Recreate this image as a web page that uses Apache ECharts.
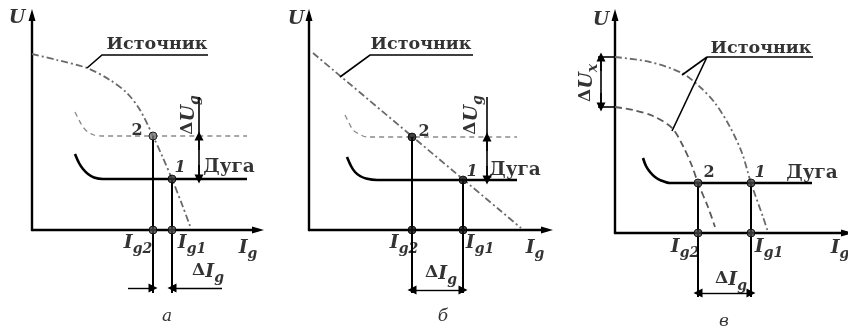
<!DOCTYPE html>
<html><head><meta charset="utf-8">
<script src="https://cdn.jsdelivr.net/npm/echarts@6/dist/echarts.min.js"></script>
<style>html,body{margin:0;background:#fff}#c{width:848px;height:328px}</style>
</head><body><div id="c"></div>
<script>
// Volt-ampere characteristics of a welding source and the arc, three cases.
// Units are arbitrary current (x) and voltage (y).

// ---- а: steeply falling source, arc length changes ----
const srcA   = [[0,176],[25,170],[55,162],[78,150],[95,137],[108,120],[121,94],[131,72],[140,51],[151,23],[158,4]];
const arcA   = [[43,76],[47,67],[51,61],[56,56],[62,52.5],[71,51],[100,51],[215,51]];
const arcA2  = [[43,118],[47,110],[51,103],[56,98],[62,95],[70,94],[100,94],[215,94]];
const opA    = [[121,94],[140,51]];            // points 2 and 1
const footA  = [[121,0],[140,0]];
const vertA  = [[[121,94],[121,-63]],[[140,51],[140,-63]]];
const dUA    = [[167,133],[167,51]];
const dUArrA = [[[167,80],[167,94]],[[167,65],[167,51]]];
const dIArrA = [[[96,-58],[121,-58]],[[190,-58],[140,-58]]];
const leadA  = [[55,162],[70,175],[176,175]];

// ---- б: gently falling source, arc length changes ----
const srcB   = [[4,177],[212,2]];
const arcB   = [[38,73],[42,64],[46,58],[51,54],[57,51.5],[68,50],[100,50],[208,50]];
const arcB2  = [[36,115],[40,107],[44,100],[50,96],[58,93],[100,93],[208,93]];
const opB    = [[103,93],[154,50]];
const footB  = [[103,0],[154,0]];
const vertB  = [[[103,93],[103,-63]],[[154,50],[154,-63]]];
const dUB    = [[178,133],[178,50]];
const dUArrB = [[[178,79],[178,93]],[[178,64],[178,50]]];
const dIArrB = [[[128,-60],[103,-60]],[[128,-60],[154,-60]]];
const leadB  = [[31,153],[61,175],[164,175]];

// ---- в: open-circuit voltage changes, arc stays ----
const srcC1  = [[0,176],[35,171],[67,160],[85,146],[100,130],[115,106],[127,80],[136,50],[148,16],[153,1]];
const srcC2  = [[0,126],[18,123],[38,117],[57,105],[68,87],[77,67],[83,50],[93,26],[100,6]];
const arcC   = [[28,75],[31,67],[35,61],[40,56],[46,52.5],[55,50],[100,50],[197,50]];
const opC    = [[83,50],[136,50]];
const footC  = [[83,0],[136,0]];
const vertC  = [[[83,50],[83,-64]],[[136,50],[136,-64]]];
const dUxTicks = [[[-17,176],[0,176]],[[-17,126],[0,126]]];
const dUxLine  = [[-14,176],[-14,126]];
const dUxArr = [[[-14,162],[-14,176]],[[-14,140],[-14,126]]];
const dIArrC = [[[110,-60],[83,-60]],[[110,-60],[136,-60]]];
const leadC  = [[[92,176],[198,176]],[[92,176],[67,158]],[[92,176],[57,102]]];

const F = 'DejaVu Serif';
const INK = '#000';

const grids = [
  {left:32,  top:15, width:226, height:215},
  {left:309, top:15, width:238, height:215},
  {left:615, top:15, width:232, height:218}
];

const axisLine = {show:true, symbol:['none','triangle'], symbolSize:[7,12], lineStyle:{color:INK, width:2.4}};
const xAxes = grids.map((g,i)=>({type:'value', gridIndex:i, min:0, max:g.width, axisLine, axisTick:{show:false}, axisLabel:{show:false}, splitLine:{show:false}}));
const yAxes = grids.map((g,i)=>({type:'value', gridIndex:i, min:0, max:g.height, axisLine, axisTick:{show:false}, axisLabel:{show:false}, splitLine:{show:false}}));

const series = [];
function curve(g, data, style){
  series.push({type:'line', xAxisIndex:g, yAxisIndex:g, data, showSymbol:false, symbol:'none', smooth:0.3, clip:false, silent:true, lineStyle:style, z:2});
}
function segs(g, list, style, sym){
  const multi = list.some(c=>c.length>2);
  series.push({type:'lines', coordinateSystem:'cartesian2d', xAxisIndex:g, yAxisIndex:g, polyline:multi, clip:false, silent:true,
    symbol: sym || ['none','none'], symbolSize:[5,9],
    lineStyle:Object.assign({color:INK, width:1.6, opacity:1}, style),
    data:list.map(c=>({coords:c})), z:3});
}
function dots(g, data, color){
  series.push({type:'scatter', xAxisIndex:g, yAxisIndex:g, data, symbolSize:8, clip:false, silent:true,
    itemStyle:{color:color||'#333', borderColor:'#000', borderWidth:1}, z:5});
}
const rich = {
  t:{fontFamily:F, fontWeight:'bold', fontSize:17.5, color:INK},
  u:{fontFamily:F, fontWeight:'bold', fontSize:18.5, color:INK},
  n:{fontFamily:F, fontWeight:'bold', fontSize:16, color:INK},
  ni:{fontFamily:F, fontWeight:'bold', fontStyle:'italic', fontSize:16, color:INK},
  I:{fontFamily:F, fontWeight:'bold', fontStyle:'italic', fontSize:19, color:INK, lineHeight:20, verticalAlign:'top'},
  d:{fontFamily:F, fontWeight:'bold', fontSize:17, color:INK, lineHeight:20, verticalAlign:'top'},
  s:{fontFamily:F, fontWeight:'bold', fontStyle:'italic', fontSize:14, color:INK, lineHeight:23, verticalAlign:'bottom'},
  c:{fontFamily:F, fontStyle:'italic', fontSize:17, color:INK}
};
function texts(g, items){
  series.push({type:'scatter', xAxisIndex:g, yAxisIndex:g, symbolSize:0, clip:false, silent:true, z:6,
    data:items.map(it=>({value:[it[0],it[1]], label:{show:true, position:'inside', align:'center', verticalAlign:'middle',
      formatter:it[2], rotate:it[3]||0, rich}})),
  });
}

const src = {color:'#6a6a6a', width:1.8, type:[7,3,2,3]};
const dash = {color:'#8a8a8a', width:1.3, type:[5,4]};
const arc = {color:INK, width:2.6};
const arrows = ['none','triangle'];

// panel а
curve(0, srcA, src); curve(0, arcA2, dash); curve(0, arcA, arc);
segs(0, vertA, {width:2});
segs(0, [dUA], {width:1.6});
segs(0, dUArrA, {width:1.6}, arrows);
segs(0, dIArrA, {width:1.4}, arrows);
segs(0, [leadA], {width:1.6});
dots(0, [opA[0]], '#777'); dots(0, [opA[1]]); dots(0, footA, '#444');
texts(0, [
  [-15,211,'{I|U}'], [125,186,'{t|Источник}'], [105,99,'{n|2}'], [148,62,'{ni|1}'], [197,63,'{u|Дуга}'],
  [159,115,'{d|Δ}{I|U}{s|g}',90], [106,-15,'{I|I}{s|g2}'], [160,-15,'{I|I}{s|g1}'], [216,-20,'{I|I}{s|g}'],
  [176,-44,'{d|Δ}{I|I}{s|g}'], [135,-87,'{c|а}']
]);

// panel б
curve(1, srcB, src); curve(1, arcB2, dash); curve(1, arcB, arc);
segs(1, vertB, {width:2});
segs(1, [dUB], {width:1.6});
segs(1, dUArrB, {width:1.6}, arrows);
segs(1, dIArrB, {width:1.4}, arrows);
segs(1, [leadB], {width:1.6});
dots(1, opB, '#111'); dots(1, footB, '#111');
texts(1, [
  [-13,210,'{I|U}'], [112,186,'{t|Источник}'], [115,98,'{n|2}'], [163,58,'{ni|1}'], [206,60,'{u|Дуга}'],
  [165,115,'{d|Δ}{I|U}{s|g}',90], [95,-15,'{I|I}{s|g2}'], [171,-15,'{I|I}{s|g1}'], [226,-20,'{I|I}{s|g}'],
  [132,-46,'{d|Δ}{I|I}{s|g}'], [134,-87,'{c|б}']
]);

// panel в
curve(2, srcC1, src); curve(2, srcC2, {color:'#5a5a5a', width:1.8, type:[7,4]}); curve(2, arcC, arc);
segs(2, vertC, {width:2});
segs(2, dUxTicks, {width:1.6});
segs(2, [dUxLine], {width:1.6});
segs(2, dUxArr, {width:1.6}, arrows);
segs(2, dIArrC, {width:1.4}, arrows);
segs(2, leadC, {width:1.6});
dots(2, opC, '#444'); dots(2, footC, '#444');
texts(2, [
  [-14,212,'{I|U}'], [146,185,'{t|Источник}'], [94,60,'{n|2}'], [145,60,'{ni|1}'], [197,60,'{u|Дуга}'],
  [-26,150,'{d|Δ}{I|U}{s|х}',90], [70,-16,'{I|I}{s|g2}'], [154,-16,'{I|I}{s|g1}'], [225,-17,'{I|I}{s|g}'],
  [116,-49,'{d|Δ}{I|I}{s|g}'], [109,-89,'{c|в}']
]);

const chart = echarts.init(document.getElementById('c'), null, {renderer:'canvas'});
chart.setOption({animation:false, backgroundColor:'#fff', grid:grids, xAxis:xAxes, yAxis:yAxes, series});
</script>
</body></html>
